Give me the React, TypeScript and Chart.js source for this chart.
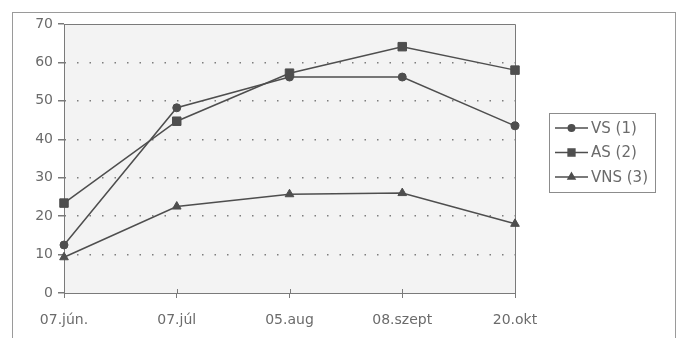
import React, { useEffect, useRef } from "react";
import { Chart, registerables } from "chart.js";
import { drawPoint } from "chart.js/helpers";

Chart.register(...registerables);

const categories = ["07.jún.", "07.júl", "05.aug", "08.szept", "20.okt"];
const seriesLabels = ["VS (1)", "AS (2)", "VNS (3)"];
const vsValues = [12.5, 48.2, 56.2, 56.2, 43.5];
const asValues = [23.4, 44.7, 57.2, 64.1, 58.0];
const vnsValues = [9.3, 22.5, 25.7, 26.0, 18.0];
const yMin = 0;
const yMax = 70;
const yStep = 10;

const LINE = "#4e4e4e";
const TEXT = "#6b6b6b";
const AXIS = "#7a7a7a";
const FONT = "'DejaVu Sans', 'Liberation Sans', Arial, sans-serif";

const framePlugin = {
  id: "frame",
  beforeDraw(chart: any) {
    const { ctx, chartArea: a } = chart;
    ctx.save();
    ctx.fillStyle = "#ffffff";
    ctx.fillRect(0, 0, chart.width, chart.height);
    ctx.strokeStyle = "#9a9a9a";
    ctx.lineWidth = 1;
    ctx.strokeRect(12.5, 12.5, 663, 340);
    ctx.fillStyle = "#f3f3f3";
    ctx.fillRect(a.left, a.top, a.right - a.left, a.bottom - a.top);
    ctx.restore();
  },
  beforeDatasetsDraw(chart: any) {
    const { ctx, chartArea: a } = chart;
    ctx.save();
    ctx.strokeStyle = AXIS;
    ctx.lineWidth = 1;
    ctx.beginPath();
    ctx.moveTo(Math.round(a.left) + 0.5, Math.round(a.top) + 0.5);
    ctx.lineTo(Math.round(a.right) + 0.5, Math.round(a.top) + 0.5);
    ctx.lineTo(Math.round(a.right) + 0.5, Math.round(a.bottom) + 0.5);
    ctx.stroke();
    // x ticks crossing the axis upward
    const xs = chart.scales.x;
    ctx.beginPath();
    xs.ticks.forEach((_: any, i: number) => {
      const px = Math.round(xs.getPixelForTick(i)) + 0.5;
      ctx.moveTo(px, a.bottom - 4);
      ctx.lineTo(px, a.bottom);
    });
    ctx.stroke();
    ctx.restore();
  },
  afterDraw(chart: any) {
    const { ctx } = chart;
    ctx.save();
    ctx.strokeStyle = "#8c8c8c";
    ctx.lineWidth = 1;
    ctx.strokeRect(549.5, 113.5, 106, 79);
    chart.data.datasets.forEach((ds: any, i: number) => {
      const y = 128 + i * 24.5;
      ctx.strokeStyle = LINE;
      ctx.lineWidth = 1.5;
      ctx.beginPath();
      ctx.moveTo(555, y);
      ctx.lineTo(588, y);
      ctx.stroke();
      ctx.fillStyle = LINE;
      drawPoint(ctx, { pointStyle: ds.pointStyle, radius: ds.pointRadius * 0.8, rotation: 0, borderWidth: 1 }, 571.5, y);
      ctx.fillStyle = TEXT;
      ctx.font = `15px ${FONT}`;
      ctx.textBaseline = "middle";
      ctx.textAlign = "left";
      ctx.fillText(ds.label, 591, y + 1);
    });
    ctx.restore();
  },
};

export default function App() {
  const ref = useRef<HTMLCanvasElement | null>(null);
  useEffect(() => {
    document.body.style.margin = "0";
    if (!ref.current) return;
    const mk = (label: string, data: number[], style: string, r: number) => ({
      label,
      data,
      borderColor: LINE,
      backgroundColor: LINE,
      borderWidth: 1.5,
      pointStyle: style,
      pointRadius: r,
      pointBackgroundColor: LINE,
      pointBorderColor: LINE,
      pointBorderWidth: 1,
      tension: 0,
    });
    const chart = new Chart(ref.current, {
      type: "line",
      data: {
        labels: categories,
        datasets: [
          mk(seriesLabels[0], vsValues, "circle", 4),
          mk(seriesLabels[1], asValues, "rect", 6),
          mk(seriesLabels[2], vnsValues, "triangle", 5),
        ],
      },
      options: {
        animation: false,
        responsive: false,
        events: [],
        layout: { padding: { left: 12, top: 24, right: 163, bottom: 0 } },
        plugins: { legend: { display: false }, tooltip: { enabled: false } },
        scales: {
          x: {
            offset: false,
            grid: {
              drawOnChartArea: false,
              tickLength: 5,
              tickColor: AXIS,
              color: AXIS,
            },
            border: { color: AXIS, width: 1 },
            ticks: {
              color: TEXT,
              font: { family: FONT, size: 14 },
              padding: 14,
              maxRotation: 0,
              autoSkip: false,
            },
            afterFit: (s: any) => {
              s.height = 45;
            },
          },
          y: {
            min: yMin,
            max: yMax,
            grid: {
              color: (c: any) =>
                c.tick && (c.tick.value === yMin || c.tick.value === yMax) ? "rgba(0,0,0,0)" : "#7d7d7d",
              lineWidth: 1.5,
              tickLength: 6,
              tickColor: AXIS,
              tickBorderDash: [],
            },
            border: { color: AXIS, width: 1, dash: [1.5, 11], dashOffset: -12 },
            ticks: {
              stepSize: yStep,
              color: TEXT,
              font: { family: FONT, size: 14 },
              padding: 5,
            },
            afterFit: (s: any) => {
              s.width = 52;
            },
          },
        },
      },
      plugins: [framePlugin],
    });
    return () => chart.destroy();
  }, []);
  return (
    <div style={{ width: 678, height: 338 }}>
      <canvas ref={ref} width={678} height={338} style={{ display: "block" }} />
    </div>
  );
}
